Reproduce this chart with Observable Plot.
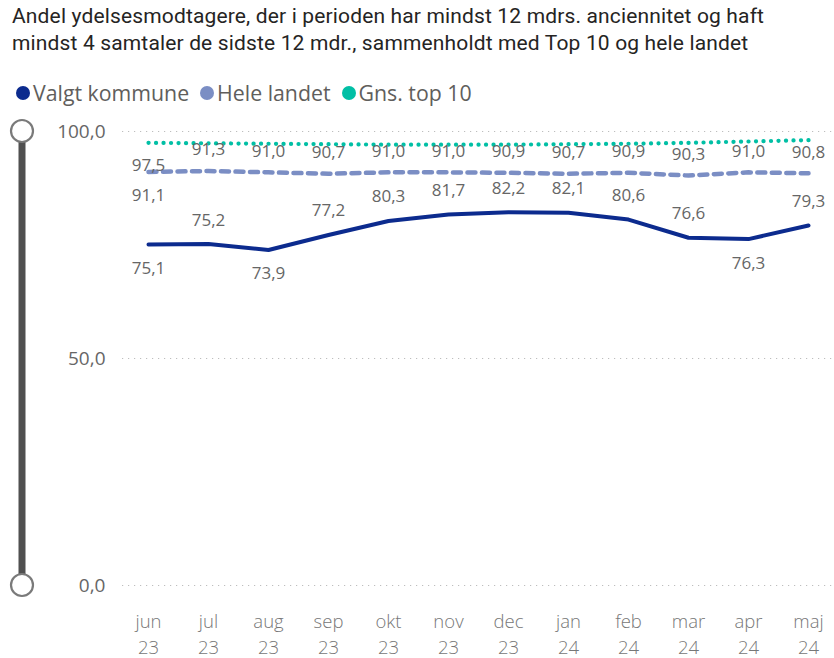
<!DOCTYPE html>
<html><head><meta charset="utf-8">
<script src="https://cdn.jsdelivr.net/npm/d3@7"></script>
<script src="https://cdn.jsdelivr.net/npm/@observablehq/plot@0.6"></script>
<style>
body{margin:0;background:#fff;font-family:"Open Sans",sans-serif;width:834px;height:658px;position:relative;overflow:hidden;}
#title{position:absolute;left:12px;top:3px;font-family:Roboto,sans-serif;font-size:21px;letter-spacing:0.15px;line-height:27px;color:#252423;white-space:nowrap;}
#legend{position:absolute;left:16px;top:78px;display:flex;align-items:center;font-size:21.3px;color:#605E5C;white-space:nowrap;}
#legend .item{display:flex;align-items:center;margin-right:11px;}
#legend .sw{width:14px;height:14px;border-radius:50%;margin-right:3px;}
#chart{position:absolute;left:0;top:110px;}
</style></head>
<body>
<div id="title">Andel ydelsesmodtagere, der i perioden har mindst 12 mdrs. anciennitet og haft<br>mindst 4 samtaler de sidste 12 mdr., sammenholdt med Top 10 og hele landet</div>
<div id="legend"></div>
<div id="chart"></div>
<script>
const months = ["jun","jul","aug","sep","okt","nov","dec","jan","feb","mar","apr","maj"];
const years  = ["23","23","23","23","23","23","23","24","24","24","24","24"];
const valgtKommune = [75.1,75.2,73.9,77.2,80.3,81.7,82.2,82.1,80.6,76.6,76.3,79.3];
const heleLandet   = [91.1,91.3,91.0,90.7,91.0,91.0,90.9,90.7,90.9,90.3,91.0,90.8];
const gnsTop10     = [97.5,97.4,97.3,97.2,97.1,97.1,97.1,97.2,97.3,97.5,97.8,98.1];
const seriesNames  = ["Valgt kommune","Hele landet","Gns. top 10"];
const seriesColors = ["#0C2B8E","#7B8EC4","#01BFA5"];
const yTicks = [0,50,100];

const keys = months.map((m,i)=>m+" "+years[i]);
const rows = (vals)=>vals.map((v,i)=>({key:keys[i], value:v, i}));
const rValgt = rows(valgtKommune), rHele = rows(heleLandet), rTop = rows(gnsTop10);
const fmt = v => v.toFixed(1).replace(".", ",");
// label placement: below at local minimum
const isMin = (arr,i)=> (i===0||arr[i]<=arr[i-1]) && (i===arr.length-1||arr[i]<=arr[i+1]);

// legend
const lg = document.getElementById("legend");
seriesNames.forEach((n,i)=>{
  const it=document.createElement("div");it.className="item";
  it.innerHTML=`<span class="sw" style="background:${seriesColors[i]}"></span><span>${n}</span>`;
  lg.appendChild(it);
});

const labelStyle = {fill:"#666", fontSize:17, fontFamily:"Open Sans, sans-serif"};
const plot = Plot.plot({
  width:834, height:548,
  marginTop:21, marginBottom:73, marginLeft:122, marginRight:0,
  style:{fontFamily:"Open Sans, sans-serif", background:"transparent"},
  x:{type:"point", domain:keys, padding:0.385},
  y:{domain:[0,100]},
  marks:[
    Plot.ruleY(yTicks,{stroke:"#BEBEBE", strokeDasharray:"1.2,4.8", strokeWidth:1.2}),
    Plot.axisY({ticks:yTicks, tickSize:0, tickPadding:17, tickFormat:fmt, fontSize:19, fill:"#666", label:null}),
    Plot.axisX({tickSize:0, tickPadding:23, tickFormat:d=>d.replace(" ","\n"), fontSize:18.5, fill:"#777", lineHeight:1.45, label:null, fontWeight:300}),
    Plot.line(rTop,{x:"key", y:"value", stroke:seriesColors[2], strokeWidth:4.2, strokeDasharray:"0.1,7.4", strokeLinecap:"round"}),
    Plot.line(rHele,{x:"key", y:"value", stroke:seriesColors[1], strokeWidth:4.5, strokeDasharray:"8,6.5"}),
    Plot.line(rValgt,{x:"key", y:"value", stroke:seriesColors[0], strokeWidth:4, strokeLinejoin:"round"}),
    Plot.text(rTop.filter(d=>d.i===0),{x:"key", y:"value", text:d=>fmt(d.value), dy:23, ...labelStyle}),
    Plot.text(rHele,{x:"key", y:"value", text:d=>fmt(d.value), ...labelStyle, filter:d=>d.i===0, dy:24}),
    Plot.text(rHele,{x:"key", y:"value", text:d=>fmt(d.value), ...labelStyle, filter:d=>d.i>0, dy:-21}),
    Plot.text(rValgt,{x:"key", y:"value", text:d=>fmt(d.value), ...labelStyle, filter:d=>isMin(valgtKommune,d.i), dy:24}),
    Plot.text(rValgt,{x:"key", y:"value", text:d=>fmt(d.value), ...labelStyle, filter:d=>!isMin(valgtKommune,d.i), dy:-24})
  ]
});
document.getElementById("chart").appendChild(plot);

// zoom slider on the left, positioned with the plot's own y scale
const ys = plot.scale("y");
const svg = d3.select(plot);
const sx = 22, yTop = ys.apply(100), yBot = ys.apply(0);
const g = svg.append("g");
g.append("line").attr("x1",sx).attr("x2",sx).attr("y1",yTop).attr("y2",yBot).attr("stroke","#505050").attr("stroke-width",7);
[yTop,yBot].forEach(y=>g.append("circle").attr("cx",sx).attr("cy",y).attr("r",11).attr("fill","#fff").attr("stroke","#7a7a7a").attr("stroke-width",2.2));
</script>
</body></html>
